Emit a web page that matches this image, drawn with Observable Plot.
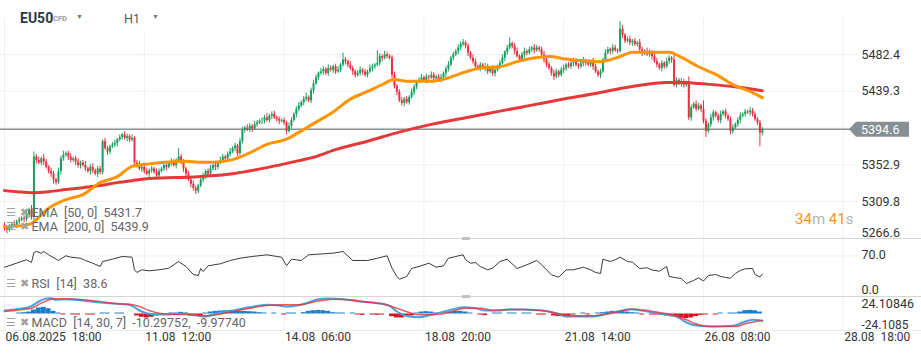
<!DOCTYPE html>
<html><head><meta charset="utf-8">
<script src="https://cdn.jsdelivr.net/npm/d3@7"></script>
<script src="https://cdn.jsdelivr.net/npm/@observablehq/plot@0.6"></script>
<style>
html,body{margin:0;padding:0;background:#fff;}
#wrap{position:relative;width:921px;height:355px;overflow:hidden;font-family:Roboto,"Noto Sans",sans-serif;background:#fff;}
.panel{position:absolute;left:0;width:921px;}
.panel svg{display:block;}
#wrap svg text{white-space:pre;}
.abs{position:absolute;white-space:pre;line-height:12px;}
.leg{font-size:12.5px;color:#666;}
.ico{font-size:11px;color:#a0a0a0;}
.hline{position:absolute;left:0;width:921px;height:1px;}
</style></head><body><div id="wrap"></div>
<script>
// ---------- DATA ----------
const firstOpen = 5282;
const closes = [5278,5276,5280,5283,5282,5286,5288,5290,5289,5294,5300,5291,
5362,
5358,5355,5360,5356,5350,5345,5342,5335,5332,5345,
5360,5364,5366,5362,5358,5360,5356,5352,5355,
5352,5348,5345,5350,5346,5342,5348,5344,
5380,
5372,5368,5374,5376,5378,5382,5385,5388,5384,5386,5382,
5384,5355,
5352,5348,5350,5345,5342,5346,5348,5344,5340,5345,
5348,5352,5350,5354,5356,5352,5358,5362,
5355,5348,5342,5335,5330,5325,5322,5328,
5335,5340,5345,5342,5348,5352,5350,
5355,5358,5362,5360,5365,5368,5372,5375,5366,5380,
5394,5396,5394,5398,5395,5400,5402,5404,
5404,5408,5405,5410,5412,5408,
5406,5404,5405,5402,5392,5398,
5405,5412,5418,5422,5426,5430,5432,5428,
5440,5448,5455,5460,
5462,5465,5460,5466,5464,5468,5462,5464,5470,
5476,5474,
5470,5466,5462,5458,5460,5464,5462,5458,5462,5466,5468,5470,5472,
5480,5478,5482,5480,5478,
5458,
5445,5438,5428,5425,5430,5426,5432,
5438,5444,5450,5452,5455,5452,5456,5455,5458,5454,5456,5452,
5455,5460,
5465,5470,5478,5482,5486,5490,5494,5496,5492,
5484,5478,5474,5468,5465,5470,5466,5468,
5462,5466,5460,5464,5468,5472,
5478,5485,5490,5495,5492,
5486,5480,5476,5482,5486,5484,5488,5490,5487,5490,5488,
5482,5476,5470,5466,5460,5456,5462,5458,5464,
5466,5470,5468,5472,5474,5470,5468,5472,5475,5472,5470,5474,5468,5462,5458,5462,
5476,5484,5488,5486,5490,5487,5486,
5512,
5505,5498,5500,5496,5498,5494,5496,5488,5484,5486,5482,5485,
5480,5474,5470,5466,5472,5468,5474,5478,5476,
5446,
5452,5448,5450,5446,5448,
5408,
5420,5424,5418,5422,5418,
5404,
5392,
5400,5408,5414,5410,5405,
5412,5415,5410,5406,
5392,
5396,5400,5405,5410,
5412,5415,5414,5416,5412,
5406,5402,5390,
5394.6];
const wickUp = [3,2,3,2,4,2,3,2,3,4, 2,5,6,3,4,2,5,3,2,4, 3,2,4,3,5,2,3,4,2,3, 4,2,3,5,2,3,4,2,3,3,
2,4,3,2,3,4,2,3,2,4, 3,2,4,2,3,5,2,3,4,2, 3,2,4,3,2,5,3,2,4,3, 2,10,3,4,2,3,2,4,3,2,
4,3,2,3,4,2,3,2,4,3, 2,3,4,2,3,2,4,3,2,4, 3,2,4,3,2,4,3,5,2,3, 4,2,3,2,3,2,4,3,2,3,
4,2,3,5,2,3,4,3,2,4, 3,2,4,3,2,3,4,2,8,3, 2,4,3,2,3,4,2,3,2,4, 3,2,15,3,2,4,3,2,3,4,
2,3,4,2,3,2,4,3,2,3, 4,2,3,2,4,3,2,3,4,2, 3,4,2,3,2,4,3,4,2,3, 2,4,3,2,3,2,4,3,2,3,
4,2,3,4,2,3,7,2,3,4, 2,3,4,2,3,2,4,3,2,3, 4,2,3,2,4,3,2,3,4,2, 3,2,4,3,2,3,4,2,3,2,
4,3,2,3,2,4,3,2,4,3, 2,9,4,2,3,4,2,3,2,4, 3,2,4,3,2,3,4,2,3,2, 4,3,2,5,3,2,4,3,2,8,
3,2,4,3,2,10,3,2,4,3, 2,3,4,2,3,2,3,4,2,3, 4,2,3,2,4,3,3,2,3,2];
const wickDown = [3,4,2,3,2,4,3,2,4,3, 4,3,7,4,2,3,4,2,3,4, 5,3,2,4,3,2,4,3,2,4, 3,4,2,3,2,4,3,2,4,3,
3,2,4,3,2,3,4,2,3,2, 4,3,2,4,3,2,4,3,2,4, 3,2,4,3,2,3,4,2,3,2, 4,3,2,4,3,2,4,3,4,3,
2,3,4,2,3,2,4,3,2,3, 4,2,3,2,4,3,2,3,4,2, 3,4,2,3,2,4,3,2,3,4, 2,3,4,2,3,4,2,3,2,4,
3,2,4,3,2,3,4,2,3,2, 4,2,3,2,4,3,2,3,2,4, 3,2,4,3,2,3,4,2,3,2, 4,3,2,3,4,2,3,2,4,3,
4,2,3,4,2,3,2,4,3,2, 3,2,4,3,2,3,4,2,3,2, 4,3,2,3,2,4,3,2,3,4, 2,3,4,2,3,2,4,3,2,3,
4,2,3,2,4,3,2,3,4,2, 3,2,4,3,2,3,4,2,3,2, 4,3,2,3,4,2,3,2,4,3, 2,3,4,2,3,2,4,3,2,3,
4,2,3,4,2,3,2,4,3,2, 3,2,4,3,2,3,4,2,3,2, 4,3,2,3,4,2,3,2,4,3, 2,3,4,2,3,2,4,3,2,3,
4,2,3,2,4,3,7,2,3,4, 2,3,4,2,3,2,4,3,2,3, 4,2,3,2,4,3,2,3,16,3];

const ema50Idx = [0,10,18,25,32,39,46,52,59,74,79,85,93,100,107,115,120,127,134,141,148,154,159,164,174,181,188,195,202,209,215,222,229,236,243,251,256,263,271,276,283,290,297,304,309];
const ema50Val = [5280,5283,5302,5312,5318,5332,5339,5351,5354,5357,5356,5356,5359,5367,5377,5383,5391,5403,5415,5430,5439,5447,5453,5451,5451,5455,5462,5467,5468,5474,5478,5480,5477,5475,5474,5480,5485,5485,5485,5479,5468,5459,5447,5439,5431.7];
const ema200Idx = [0,5,11,18,25,32,39,46,52,59,79,93,107,120,127,134,148,161,174,188,202,215,229,243,251,256,270,278,283,297,309];
const ema200Val = [5322.6,5321.4,5320.2,5321.4,5323.8,5326.1,5328.5,5332,5334.3,5336.7,5339,5342.5,5349.6,5357.8,5362.5,5369.8,5380.6,5391.3,5400.4,5408.1,5415.9,5423,5430.7,5437.7,5442.4,5444.8,5449.5,5449.5,5448.3,5444.8,5439.9];

const rsiIdx = [0,3,8,9,11,12,13,15,16,18,22,25,27,31,33,36,39,40,44,48,52,53,54,56,59,63,67,71,74,77,79,80,81,83,88,92,96,101,107,111,113,115,117,119,121,124,130,134,138,142,148,152,156,158,160,161,164,166,169,173,176,179,181,184,187,188,190,192,194,197,199,202,205,209,213,217,219,223,226,229,232,236,239,241,243,244,247,249,251,254,256,259,262,264,267,270,271,274,276,278,281,283,285,287,290,292,294,296,298,300,302,305,306,308,309];
const rsiVal = [50.5,54.7,62,63.3,58.6,75.9,77.6,74.7,77.6,71.9,62.1,70.2,67.8,66,62.1,57.4,51.7,60.3,64.3,69,67.8,46,41.4,46,44.3,46,48.8,60.3,51.7,37.9,36.2,48.3,43.1,52.9,56.4,62.1,66,69,71.9,69,67.8,52.9,64.3,63.3,62.1,71.9,73.6,74.7,77.6,62.1,62.1,66,70.2,48.8,34.5,29.8,34.5,48.3,51.7,57.4,50.5,52.9,66,69,71.9,63.3,57.4,58.6,51.7,46,48.8,60.3,64.3,48.3,54.7,62.1,54.7,37.4,33.3,46,46,50.5,46,41.4,39.7,64.3,60.3,63.3,67.8,60.3,59.1,48.3,49.5,45.7,43.6,51.7,34.5,32.2,31,22.4,27.6,32.2,26.7,36.2,37.9,34.5,32.8,31.6,39.7,44.8,47.8,48.3,37.9,33.6,38.6];

const macdIdx = [0,5,10,14,17,19,21,25,39,46,50,52,55,59,63,74,79,82,86,93,100,107,112,115,123,127,132,138,145,152,157,160,165,169,174,181,187,192,196,202,206,213,219,225,229,240,244,250,255,260,264,270,274,278,283,289,297,301,305,309];
const macdVal = [5.3,7.3,10.3,18.9,23.5,23.9,21.5,22.4,17.4,15.5,14.4,12.4,5.3,0.3,-0.8,0.3,-2.7,-3.8,0.3,5.3,10.3,13.9,12.9,11.4,16.4,21.5,23.5,22.4,18.9,16.4,12.4,3.8,-3.8,-4.8,-1.2,5.3,10.3,8.8,5.3,5.3,7.3,6.4,5.3,1.2,-3.8,-3.8,-1.2,3.8,7.3,5.3,2.3,-1.2,-3.8,-12.9,-17.9,-18.9,-17.9,-12.9,-8.8,-10.29752];
const signalIdx = [0,6,11,15,20,25,32,39,46,51,55,59,63,68,77,81,86,93,100,107,113,120,127,134,141,148,154,160,165,169,174,181,188,194,199,206,213,219,226,230,240,245,251,256,262,267,272,278,283,287,298,302,309];
const signalVal = [3.8,6.1,8.8,16.4,23,23,21.5,18.9,15.5,14.8,11.4,5.3,1.2,-0.3,-1.2,-2.7,-1.5,3.8,8.8,12.9,13.9,13.9,18.9,22.4,21.5,17.9,15.5,8.8,2.3,-1.2,-1.2,2.3,8.8,8.8,5.3,6.4,6.8,5.3,0.3,-2.7,-2.7,-0.3,3.8,7.3,5.3,2.3,-1.2,-8.8,-16.4,-18.9,-18.9,-14.8,-9.9774];
// histogram, one value per two hourly bars (bar index = 2*k)
const histVal = [0,0,0, 1.5,2,3, 6,9,10,8,4, 1.5,
-1.5,0,-1.5,-1.5,0,-1.5,-1.5,0, 1.5,1.5,0,1.5,1.5,0,0, -3,-5,-6,-5,-3, -1.5,0,1.5, 1.5,2.5,1.5, -3,-4,-3,
1.5,3,4,4.5,5,5,4.5,4,4,3.5,3,2, 1.5,0,1.5,0,-1.5,1.5,1.5, 0,2,4,5,5.5,5,4,2,1.5, 1.5,0,1.5,
-1.5,-2,0,-1.5,-2,-1.5,0, -4,-6,-6,-4,-3, 1.5,3,3.5,3,1.5,0, 1.5,3,4,4,3,1.5, 0,-1.5,-2.5,0,1.5,1.5,0,
1.5,1.5,0,1.5,1.5,0,-1.5, -1.5,0,-3,-4,-4,-3,-1.5, 0,1.5,-1.5,0,1.5, 2,3,4,4,3.5,3,2,1.5,
-1.5,0,-1.5,-1.5,-2, -3,-4,-5,-6,-7,-6,-4,-2, -1.5,0,-1.5,1.5, 0,1.5,1.5, 3,5,5.5,5, 3];

const priceTicks = [5309.8, 5352.9, 5396.1, 5439.3, 5482.4];
const priceEdgeTick = 5266.6;
const timeTickIdx = [0, 57, 114, 171, 228, 285, 342];
const timeTickLabels = ["06.08.2025  18:00", "11.08  12:00", "14.08  06:00", "18.08  20:00", "21.08  14:00", "26.08  08:00", "28.08  18:00"];
const rsiTopTick = 70, rsiBottomTick = 0;
const macdTopTick = 24.10846, macdBottomTick = -24.10846;
const macdTopLabel = "24.10846", macdBottomLabel = "-24.1085";

// ---------- BUILD ----------
const FONT = "Roboto, 'Noto Sans', sans-serif";
const GRID = "#efefef";
const UP = "#16a05d", DOWN = "#ee2f40";
const xDom = [-1.631, 348.2];
const wrap = document.getElementById("wrap");

const bars = closes.map((c, i) => {
  const o = i ? closes[i - 1] : firstOpen;
  return {i, o, c, h: Math.max(o, c) + wickUp[i], l: Math.min(o, c) - wickDown[i], up: c >= o};
});
const zip = (a, b) => a.map((x, k) => ({i: x, v: b[k]}));
const ema50 = zip(ema50Idx, ema50Val), ema200 = zip(ema200Idx, ema200Val);
const rsi = zip(rsiIdx, rsiVal), macd = zip(macdIdx, macdVal), signal = zip(signalIdx, signalVal);
const hist = histVal.map((v, k) => ({i: 2 * k, v})).filter(d => d.v !== 0);
const lastClose = closes[closes.length - 1];

function panel(top, h, svg) {
  const d = document.createElement("div");
  d.className = "panel"; d.style.top = top + "px"; d.style.height = h + "px"; d.style.background = "#fff";
  d.appendChild(svg); wrap.appendChild(d); return d;
}
const common = {width: 921, marginLeft: 0, marginRight: 63, color: {type: "identity"},
  style: {fontFamily: FONT, background: "transparent", overflow: "visible"}};
const axisText = {frameAnchor: "right", dx: 3, textAnchor: "start", fill: "#333", fontSize: 12.5};

// main price panel
const main = Plot.plot({...common, height: 238, marginTop: 0, marginBottom: 0,
  x: {domain: xDom, axis: null}, y: {domain: [5266.4, 5545.8], axis: null},
  marks: [
    Plot.ruleY(priceTicks, {stroke: GRID}),
    Plot.ruleX(timeTickIdx, {stroke: GRID}),
    Plot.ruleY([lastClose], {stroke: "#8a9296", strokeWidth: 1.5}),
    Plot.ruleX(bars, {x: "i", y1: "l", y2: "h", stroke: d => d.up ? UP : DOWN, strokeWidth: 1}),
    Plot.ruleX(bars, {x: "i", y1: "o", y2: "c", stroke: d => d.up ? UP : DOWN, strokeWidth: 2}),
    Plot.line(ema200, {x: "i", y: "v", stroke: "#e53838", strokeWidth: 3, curve: "monotone-x"}),
    Plot.line(ema50, {x: "i", y: "v", stroke: "#ff9400", strokeWidth: 3, curve: "monotone-x"}),
    Plot.text(priceTicks, {y: d => d, text: d => d.toFixed(1), ...axisText}),
    Plot.text([priceEdgeTick], {y: d => d, text: d => d.toFixed(1), ...axisText, dy: -5.5})
  ]});
{
  const ys = main.scale("y").apply(lastClose);
  const s = d3.select(main);
  s.append("path").attr("d", `M849,${ys + 0.5} L856,${ys - 7} H909 V${ys + 8} H856 Z`).attr("fill", "#868f93");
  s.append("text").attr("x", 861).attr("y", ys + 0.5).attr("dy", "0.35em").attr("fill", "#fff")
    .attr("text-anchor", "start").attr("font-size", 12.5).attr("font-family", FONT).text(lastClose.toFixed(1));
}
panel(0, 238, main);

// RSI panel
const rsiPlot = Plot.plot({...common, height: 58, marginTop: 0, marginBottom: 0,
  x: {domain: xDom, axis: null}, y: {domain: [0, 100], axis: null},
  marks: [
    Plot.ruleX(timeTickIdx, {stroke: GRID}),
    Plot.ruleY([rsiTopTick], {stroke: GRID}),
    Plot.line(rsi, {x: "i", y: "v", stroke: "#3a3a3a", strokeWidth: 1}),
    Plot.text([rsiTopTick], {y: d => d, text: d => d.toFixed(1), ...axisText, dy: -1}),
    Plot.text([rsiBottomTick], {y: d => d, text: d => d.toFixed(1), ...axisText, dy: -6.5})
  ]});
panel(238, 58, rsiPlot);

// MACD panel + time axis
const macdPlot = Plot.plot({...common, height: 59, marginTop: 0, marginBottom: 24,
  x: {domain: xDom, axis: null}, y: {domain: [-26.5, 26.5], axis: null},
  marks: [
    Plot.ruleX(timeTickIdx, {stroke: GRID}),
    Plot.rect(hist, {x1: d => d.i - 1, x2: d => d.i + 1, y1: () => 0, y2: "v", fill: d => d.v > 0 ? "#1b7fc8" : "#d6121c"}),
    Plot.line(macd, {x: "i", y: "v", stroke: "#4aa2de", strokeWidth: 2, curve: "monotone-x"}),
    Plot.line(signal, {x: "i", y: "v", stroke: "#e5333b", strokeWidth: 1.5, strokeOpacity: 0.8, curve: "monotone-x"}),
    Plot.text([macdTopTick], {y: d => d, text: () => macdTopLabel, ...axisText, dy: 5.5}),
    Plot.text([macdBottomTick], {y: d => d, text: () => macdBottomLabel, ...axisText, dy: -5, fontSize: 12}),
    Plot.text(timeTickIdx, {x: d => d, text: (d, k) => timeTickLabels[k], frameAnchor: "bottom", dy: 9.5, dx: 1, textAnchor: "start", fill: "#333", fontSize: 12})
  ]});
panel(296, 59, macdPlot);

// separators and handles
function hl(top, color) { const d = document.createElement("div"); d.className = "hline"; d.style.top = top + "px"; d.style.background = color; wrap.appendChild(d); }
hl(238, "#d5d5d5"); hl(296, "#d5d5d5"); hl(330, "#ececec");
function box(x, y, w, h, bg) { const d = document.createElement("div"); d.style.cssText = `position:absolute;left:${x}px;top:${y}px;width:${w}px;height:${h}px;background:${bg}`; wrap.appendChild(d); return d; }
box(462, 237, 8, 3, "#c2c2c2"); box(462, 295, 8, 3, "#c2c2c2");
// header strip
box(0, 0, 921, 18, "#fff"); box(112, 0, 58, 31, "#fff");

function txt(x, cy, html, cls, extra) {
  const d = document.createElement("div"); d.className = "abs " + (cls || "");
  d.style.left = x + "px"; d.style.top = (cy - 6) + "px"; if (extra) d.style.cssText += extra;
  d.innerHTML = html; wrap.appendChild(d); return d;
}
txt(20, 18, "EU50", "", "font-size:14px;font-weight:700;color:#2b3a47;");
txt(53, 19, "CFD", "", "font-size:7.5px;font-weight:700;color:#9a9a9a;");
txt(76, 17, "▼", "", "font-size:7px;color:#777;");
txt(124, 19, "H1", "", "font-size:12.5px;color:#555;");
txt(152, 17, "▼", "", "font-size:7px;color:#777;");

function legend(cy, text) {
  txt(6, cy, "☰", "ico"); txt(20, cy, "✖", "ico"); txt(31.5, cy, text, "leg");
}
legend(212.5, `EMA  [50, 0]  ${ema50Val[ema50Val.length - 1].toFixed(1)}`);
legend(226.5, `EMA  [200, 0]  ${ema200Val[ema200Val.length - 1].toFixed(1)}`);
legend(284, `RSI  [14]  ${rsiVal[rsiVal.length - 1].toFixed(1)}`);
legend(322.5, `MACD  [14, 30, 7]  ${macdVal[macdVal.length - 1].toFixed(5)},  ${signalVal[signalVal.length - 1].toFixed(5)}`);

txt(795, 218, '<span style="color:#f7931e">34</span><span style="color:#b4b4b4">m</span> <span style="color:#f7931e">41</span><span style="color:#b4b4b4">s</span>', "", "font-size:15px;line-height:14px;");
</script></body></html>
